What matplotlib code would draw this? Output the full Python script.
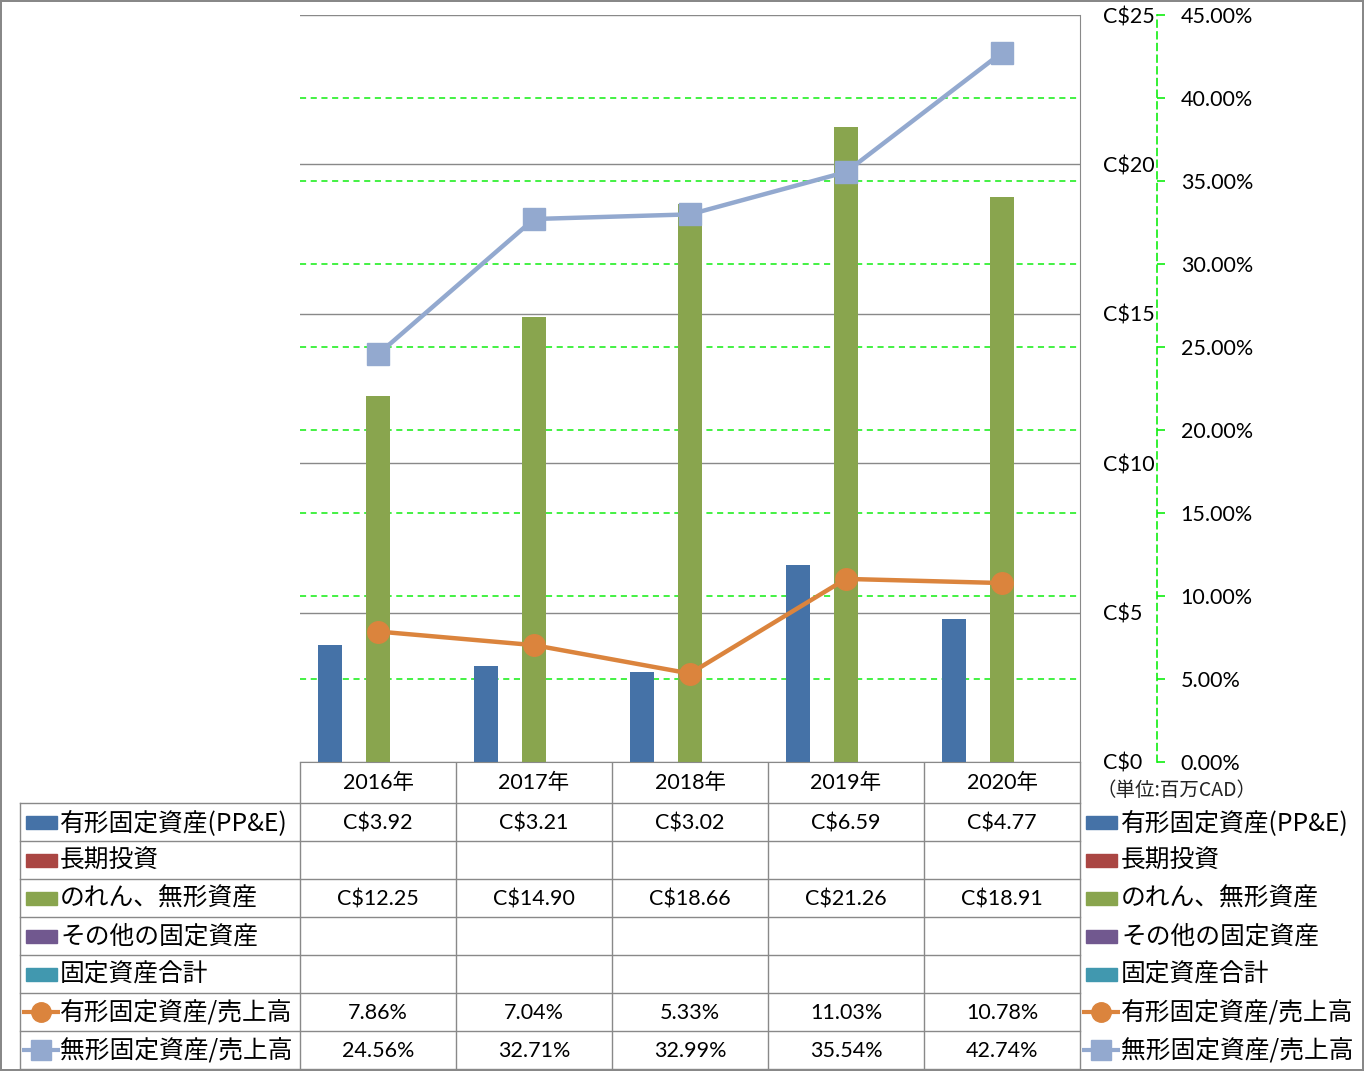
import numpy as np
import matplotlib.pyplot as plt
from matplotlib.patches import Rectangle
from matplotlib.transforms import blended_transform_factory

plt.rcParams['font.family'] = ['Lato', 'Noto Sans CJK JP', 'DejaVu Sans']

# data
years = ['2016年', '2017年', '2018年', '2019年', '2020年']
ppe = [3.92, 3.21, 3.02, 6.59, 4.77]
lt_invest = [np.nan] * 5
goodwill = [12.25, 14.90, 18.66, 21.26, 18.91]
other_fixed = [np.nan] * 5
total_fixed = [np.nan] * 5
ppe_ratio = [7.86, 7.04, 5.33, 11.03, 10.78]
intang_ratio = [24.56, 32.71, 32.99, 35.54, 42.74]

bar_names = ['有形固定資産(PP&E)', '長期投資', 'のれん、無形資産', 'その他の固定資産', '固定資産合計']
bar_colors = ['#4572A7', '#AA4643', '#89A54E', '#71588F', '#4198AF']
bar_data = [ppe, lt_invest, goodwill, other_fixed, total_fixed]
line_names = ['有形固定資産/売上高', '無形固定資産/売上高']
line_colors = ['#DB843D', '#93A9CF']
line_data = [ppe_ratio, intang_ratio]
line_markers = ['o', 's']

money_ticks = [0, 5, 10, 15, 20, 25]
pct_ticks = [0, 5, 10, 15, 20, 25, 30, 35, 40, 45]

W, H = 1364, 1071
fig = plt.figure(figsize=(W / 100, H / 100), dpi=100)
fig.patch.set_edgecolor('#888888')
fig.patch.set_linewidth(1.5)

grey = '#898989'
lime = '#11EE11'

# table / legend layer in pixel coords
tax = fig.add_axes([0, 0, 1, 1])
tax.set_xlim(0, W)
tax.set_ylim(H, 0)
tax.axis('off')
tax.patch.set_visible(False)

# main chart
ax = fig.add_axes([300 / W, (H - 762) / H, 780 / W, 747 / H])
x = np.arange(len(years))
n = len(bar_data)
w = (1 / 1.3) / n
for i, (vals, c) in enumerate(zip(bar_data, bar_colors)):
    ax.bar(x + (i - (n - 1) / 2) * w, vals, width=w, color=c, zorder=2)
ax.set_xlim(-0.5, len(years) - 0.5)
ax.set_ylim(0, 25)
ax.set_xticks([])
ax.set_yticks(money_ticks)
ax.set_yticklabels([f'C${v}' for v in money_ticks])
ax.grid(axis='y', color=grey, lw=1, zorder=0)
ax.set_axisbelow(True)
for s in ['left', 'top']:
    ax.spines[s].set_visible(False)
for s in ['right', 'bottom']:
    ax.spines[s].set_color(grey)

ax2 = ax.twinx()
ax.yaxis.tick_right()
ax.tick_params(axis='y', length=0, pad=23 * 0.72, labelsize=15.5)
ax2.set_ylim(0, 45)
ax2.set_yticks(pct_ticks)
ax2.set_yticklabels([f'{v:.2f}%' for v in pct_ticks])
ax2.spines['right'].set_position(('axes', 857 / 780))
ax2.spines['right'].set_color(lime)
ax2.spines['right'].set_linewidth(1.2)
ax2.spines['right'].set_linestyle((0, (4, 3)))
for s in ['left', 'top', 'bottom']:
    ax2.spines[s].set_visible(False)
ax2.tick_params(axis='y', direction='out', length=6, width=1.2, color=lime, pad=11, labelsize=15.5)

# percentage gridlines behind bars
tr = blended_transform_factory(ax.transAxes, ax2.transData)
ax.hlines(pct_ticks[1:-1], 0, 1, transform=tr, colors=lime, lw=1.1,
          linestyles=(0, (4, 3)), zorder=1)

for vals, c, m in zip(line_data, line_colors, line_markers):
    ax2.plot(x, vals, color=c, lw=3.2, marker=m, ms=15.5, zorder=3)

# table grid
col_w = 780 / len(years)
row_top = 803
row_h = 38
n_rows = len(bar_names) + len(line_names)
bottom = row_top + row_h * n_rows
for k in range(n_rows + 1):
    tax.plot([20, 1080], [row_top + k * row_h] * 2, color=grey, lw=1)
for k in range(len(years) + 1):
    tax.plot([300 + k * col_w] * 2, [762, bottom], color=grey, lw=1)
tax.plot([20, 20], [row_top, bottom], color=grey, lw=1)

for j, yr in enumerate(years):
    tax.text(300 + (j + 0.5) * col_w, 783, yr, ha='center', va='center', fontsize=15.5)

tax.text(1096, 790, '（単位:百万CAD）', ha='left', va='center', fontsize=14,
         family=['Noto Sans CJK JP'], color='#222222')

labels = bar_names + line_names
values = [[f'C${v:.2f}' if not np.isnan(v) else '' for v in d] for d in bar_data] + \
         [[f'{v:.2f}%' for v in d] for d in line_data]

for i, (lab, vals) in enumerate(zip(labels, values)):
    yc = row_top + row_h * i + row_h / 2
    for key_x, txt_x in [(26, 60), (1086, 1121)]:
        if i < len(bar_names):
            tax.add_patch(Rectangle((key_x, yc - 6.5), 31, 13, color=bar_colors[i]))
        else:
            li = i - len(bar_names)
            tax.plot([key_x - 4, key_x + 34], [yc, yc], color=line_colors[li], lw=3,
                     solid_capstyle='butt')
            tax.plot([key_x + 15], [yc], color=line_colors[li], marker=line_markers[li], ms=14)
        tax.text(txt_x, yc + 1, lab, ha='left', va='center', fontsize=17.8,
                 family=['Noto Sans CJK JP'])
    for j, v in enumerate(vals):
        tax.text(300 + (j + 0.5) * col_w, yc + 1, v, ha='center', va='center', fontsize=15.5)

fig.savefig('out.png', dpi=100)
